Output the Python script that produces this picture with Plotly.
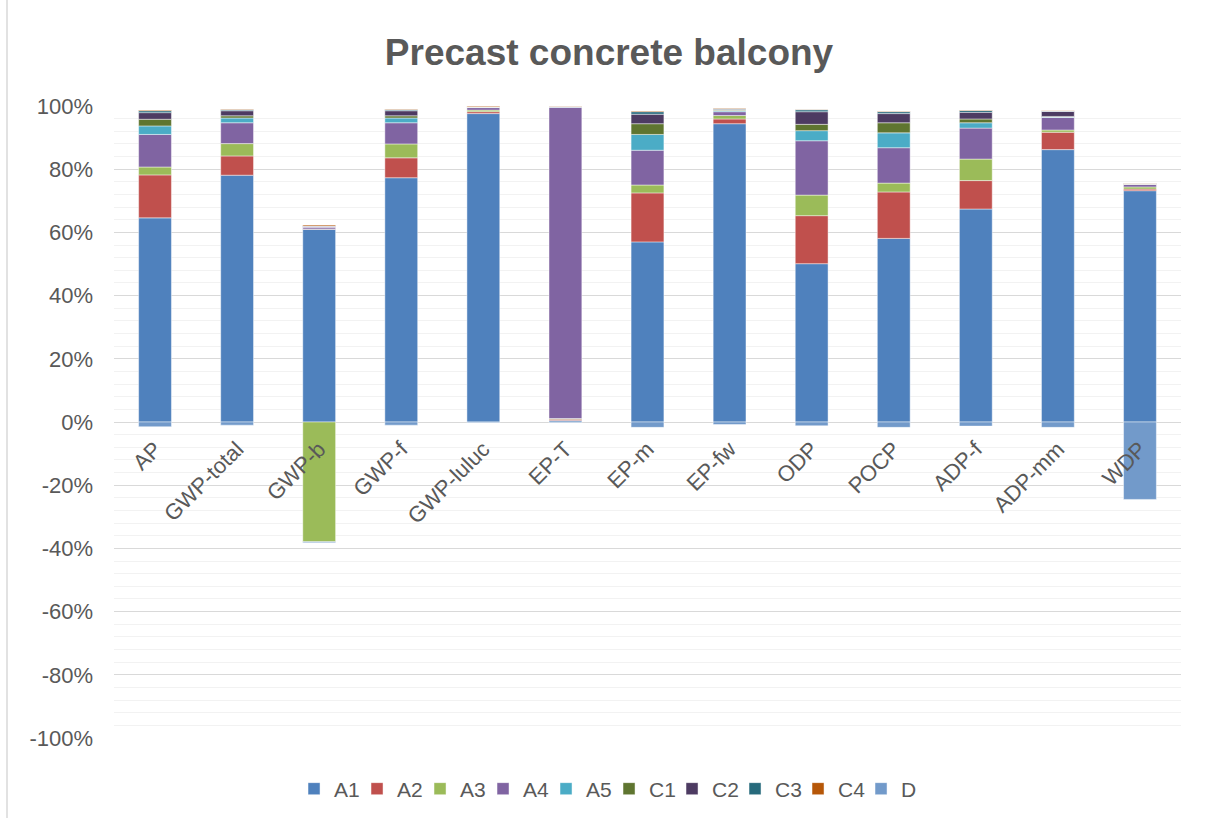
import plotly.graph_objects as go

categories = ["AP", "GWP-total", "GWP-b", "GWP-f", "GWP-luluc", "EP-T", "EP-m",
              "EP-fw", "ODP", "POCP", "ADP-f", "ADP-mm", "WDP"]

A1 = [64.6, 78.1, 61.0, 77.3, 97.6, 0.5, 57.0, 94.4, 50.1, 58.1, 67.4, 86.2, 73.2]
A2 = [13.6, 6.1, 0.1, 6.3, 0.6, 0.4, 15.5, 1.5, 15.2, 14.7, 9.0, 5.5, 0.5]
A3 = [2.5, 3.9, -37.9, 4.4, 0.5, 0.2, 2.5, 1.1, 6.5, 2.8, 6.8, 0.7, 0.7]
A4 = [10.3, 6.6, 0.6, 6.7, 0.8, 98.5, 11.0, 1.2, 17.2, 11.2, 9.8, 4.0, 0.8]
A5 = [2.7, 1.5, 0.05, 1.5, 0.1, 0.1, 5.0, 0.3, 3.2, 4.7, 1.7, 0.1, 0.05]
C1 = [2.1, 0.7, 0.05, 0.7, 0.05, 0.1, 3.4, 0.2, 2.0, 3.2, 1.2, 0.2, 0.05]
C2 = [2.1, 1.6, 0.2, 1.6, 0.1, 0.1, 3.0, 0.3, 4.0, 2.9, 2.1, 1.6, 0.1]
C3 = [0.6, 0.3, 0.05, 0.3, 0.05, 0.05, 0.8, 0.1, 0.6, 0.6, 0.6, 0.1, 0.05]
C4 = [0.2, 0.2, 0.3, 0.2, 0.2, 0.05, 0.2, 0.2, 0.1, 0.1, 0.1, 0.1, 0.1]
D = [-1.5, -1.0, -0.3, -1.0, -0.2, -0.2, -1.7, -0.8, -1.2, -1.7, -1.3, -1.7, -24.5]

series_names = ["A1", "A2", "A3", "A4", "A5", "C1", "C2", "C3", "C4", "D"]
series_values = [A1, A2, A3, A4, A5, C1, C2, C3, C4, D]
series_colors = ["#4F81BD", "#C0504D", "#9BBB59", "#8064A2", "#4BACC6",
                 "#5F7530", "#4D3B62", "#276A7C", "#B65708", "#729ACA"]

y_ticks = [-100, -80, -60, -40, -20, 0, 20, 40, 60, 80, 100]
y_tick_text = [f"{v}%" for v in y_ticks]

FONT = "Liberation Sans, Arial, sans-serif"
GREY = "#595959"

fig = go.Figure()
for name, vals, col in zip(series_names, series_values, series_colors):
    fig.add_trace(go.Bar(
        x=categories, y=vals, name=name,
        marker=dict(color=col, line=dict(color="rgba(255,255,255,0.45)", width=1)),
    ))

fig.update_layout(
    width=1206, height=818,
    barmode="relative",
    bargap=0.6,
    paper_bgcolor="white",
    plot_bgcolor="white",
    margin=dict(l=114, r=25, t=106, b=80, autoexpand=False),
    font=dict(family=FONT, color=GREY, size=21),
    title=dict(text="<b>Precast concrete balcony</b>", font=dict(size=37, color=GREY, family=FONT),
               x=0.505, xref="container", xanchor="center",
               y=1 - 52 / 818, yref="container", yanchor="middle"),
    legend=dict(orientation="h", xref="container", x=0.505, xanchor="center",
                yref="container", y=1 - 789 / 818, yanchor="middle",
                font=dict(size=21, color=GREY), traceorder="normal",
                itemwidth=30, entrywidth=18, entrywidthmode="pixels"),
    xaxis=dict(anchor="free", position=0.5, tickangle=-45, showgrid=False,
               showline=False, zeroline=False, ticks="", ticklabelstandoff=9,
               tickfont=dict(size=22, color=GREY)),
    yaxis=dict(range=[-100, 100], tickvals=y_ticks, ticktext=y_tick_text,
               showgrid=True, gridcolor="#D9D9D9", gridwidth=1.3,
               zeroline=True, zerolinecolor="#D9D9D9", zerolinewidth=1.3,
               minor=dict(dtick=4, tick0=0, showgrid=True, gridcolor="#F2F2F2", gridwidth=1.3),
               showline=False, ticks="", ticklabelstandoff=20,
               tickfont=dict(size=22, color=GREY)),
    shapes=[dict(type="line", xref="paper", yref="paper", x0=-107 / 1067, x1=-107 / 1067,
                 y0=-80 / 632, y1=1 + 106 / 632, line=dict(color="#D9D9D9", width=1.5))],
)

fig.write_html("out.html", config={"displayModeBar": False},
               post_script="document.body.style.margin='0px';")
